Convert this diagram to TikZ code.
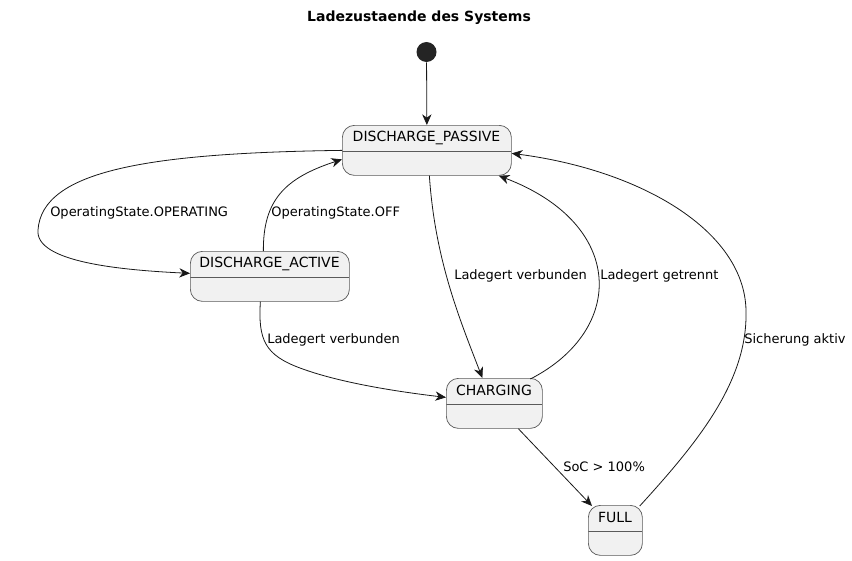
\documentclass[tikz,border=0pt]{standalone}
\usepackage{fontspec}
\setmainfont{DejaVu Sans}
\usetikzlibrary{arrows.meta,calc}
\definecolor{statefill}{HTML}{F1F1F1}
\definecolor{edgecol}{HTML}{181818}
\definecolor{bordercol}{HTML}{5A5A5A}
\tikzset{
  statebox/.style={draw=bordercol, line width=0.55pt, fill=statefill, rounded corners=9pt,
    inner sep=0pt, anchor=north west, minimum height=37.5pt,
    path picture={\draw[bordercol, line width=0.55pt]
      ([yshift=-19.5pt]path picture bounding box.north west) --
      ([yshift=-19.5pt]path picture bounding box.north east);}},
  statetext/.style={font=\fontsize{10.5pt}{12pt}\selectfont, text=black, inner sep=0pt},
  lbl/.style={font=\fontsize{9.75pt}{11pt}\selectfont, text=black, inner sep=0pt, anchor=west},
  edge/.style={draw=edgecol, line width=0.6pt,
    -{Stealth[length=8pt,width=7pt,inset=2.5pt]}},
}
\begin{document}
\begin{tikzpicture}[x=0.75pt,y=-0.75pt]
\useasboundingbox (0,0) rectangle (852,560);

\node[font=\bfseries\fontsize{10.5pt}{12pt}\selectfont, inner sep=0pt] (title) at (419,18) {Ladezustaende des Systems};

\node[circle, fill=edgecol!95, minimum size=15pt, inner sep=0pt] (st) at (426.5,52) {};

\node[statebox, minimum width=126.75pt] (dp) at (342,125) {};
\node[statetext] (dpt) at (426.5,137.5) {DISCHARGE\_PASSIVE};

\node[statebox, minimum width=119.25pt] (da) at (190,251) {};
\node[statetext] (dat) at (269.5,263.5) {DISCHARGE\_ACTIVE};

\node[statebox, minimum width=72pt] (ch) at (446,378) {};
\node[statetext] (cht) at (494,390.5) {CHARGING};

\node[statebox, minimum width=40.5pt] (full) at (588,505) {};
\node[statetext] (fullt) at (615,517.5) {FULL};

% start -> DISCHARGE_PASSIVE
\draw[edge] (st) -- (dp.north);

% DP -> DA
\draw[edge] (dp.west) .. controls (150,153) and (42,170) .. (38,230)
  .. controls (35,262) and (120,270) .. ($(da.west)+(0,-3)$);
\node[lbl] (l1) at (50,213) {OperatingState.OPERATING};

% DA -> DP
\draw[edge] ($(da.north)+(-6.5,0)$) .. controls (263,200) and (285,178) .. ($(dp.west)+(0,9)$);
\node[lbl] (l2) at (271,213) {OperatingState.OFF};

% DP -> CHARGING
\draw[edge] ($(dp.south)+(2.5,0)$) .. controls (435,260) and (460,320) .. ($(ch.north)+(-12,0)$);
\node[lbl] (l3) at (454,276) {Ladegert verbunden};

% CHARGING -> DP
\draw[edge] ($(ch.north)+(36,1)$) .. controls (626,330) and (626,224) .. ($(dp.south east)+(-13,0)$);
\node[lbl] (l4) at (600,276) {Ladegert getrennt};

% DA -> CHARGING
\draw[edge] ($(da.south)+(-9.5,0)$) .. controls (258,340) and (265,355) .. (300,368)
  .. controls (340,383) and (400,392) .. ($(ch.west)+(0,-6)$);
\node[lbl] (l5) at (267,340) {Ladegert verbunden};

% CHARGING -> FULL
\draw[edge] ($(ch.south)+(24,0)$) -- ($(full.north west)+(4,1)$);
\node[lbl] (l6) at (563,467) {SoC > 100\%};

% FULL -> DP
\draw[edge] ($(full.north east)+(-3,1)$) .. controls (700,440) and (748,380) .. (746,310)
  .. controls (744,230) and (640,170) .. ($(dp.east)+(0,3)$);
\node[lbl] (l7) at (744,340) {Sicherung aktiv};
\end{tikzpicture}
\end{document}
